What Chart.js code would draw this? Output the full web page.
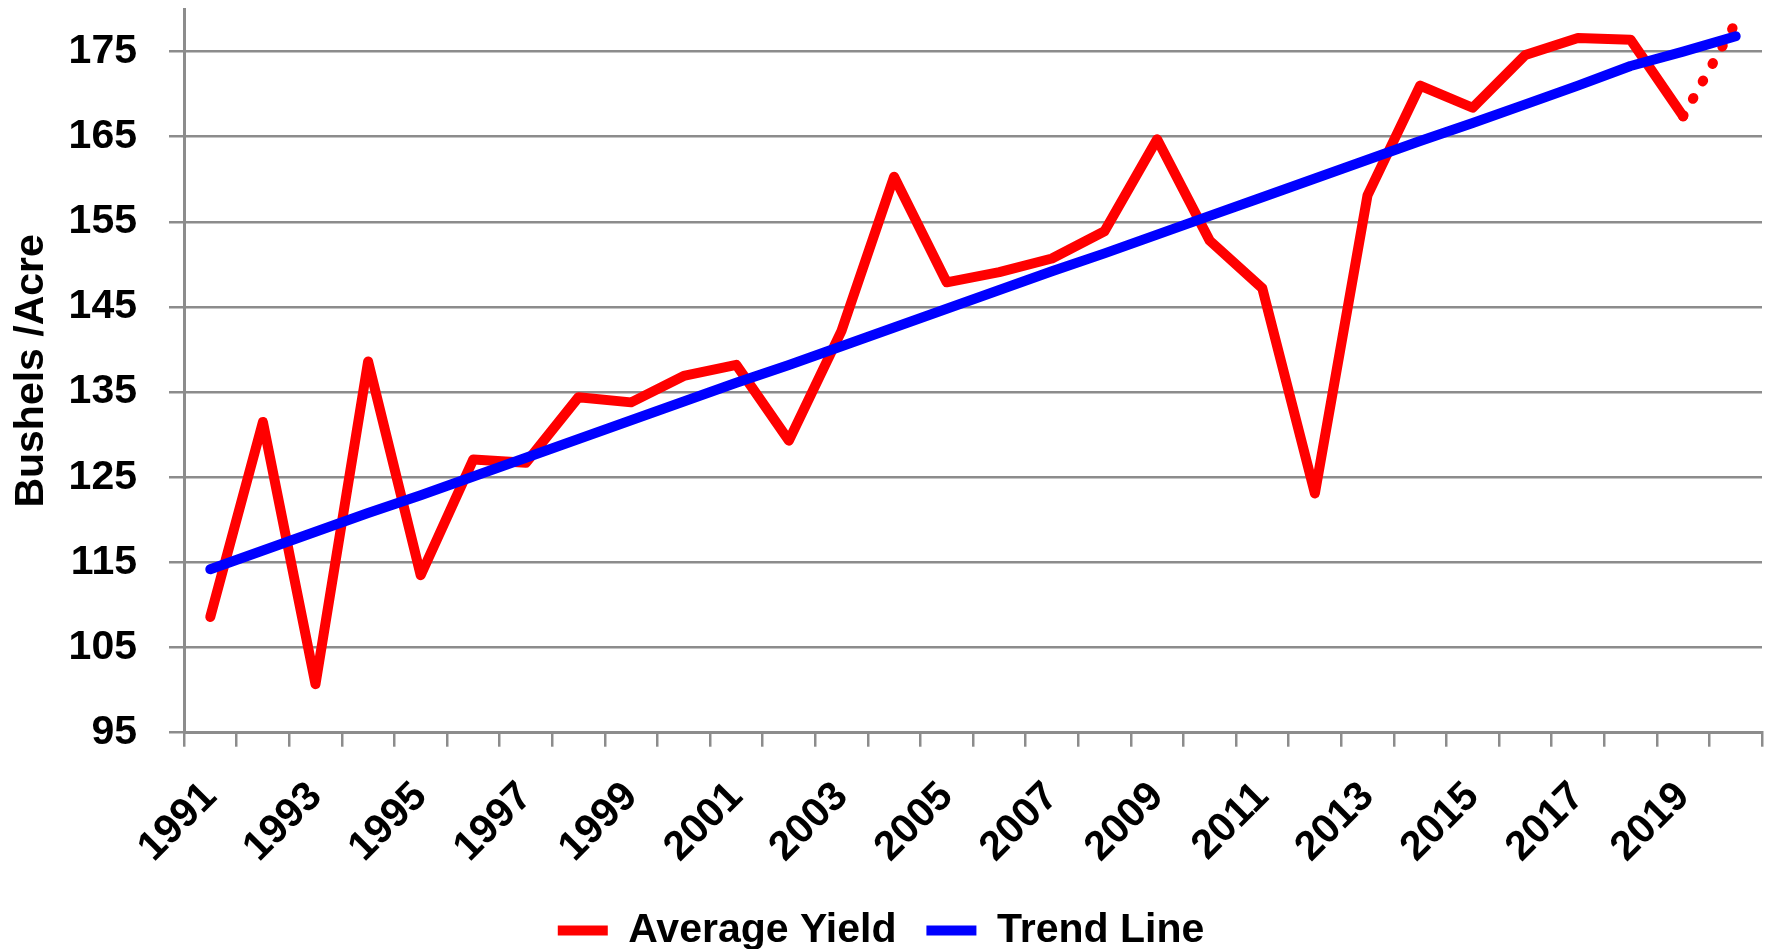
<!DOCTYPE html>
<html>
<head>
<meta charset="utf-8">
<script src="https://cdn.jsdelivr.net/npm/chart.js@4"></script>
<style>
  html, body { margin: 0; padding: 0; background: #fff; }
  #wrap { width: 1767px; height: 949px; }
</style>
</head>
<body>
<div id="wrap"><canvas id="yieldChart"></canvas></div>
<script>
const years = [
  "1991", "1992", "1993", "1994", "1995", "1996", "1997", "1998", "1999", "2000",
  "2001", "2002", "2003", "2004", "2005", "2006", "2007", "2008", "2009", "2010",
  "2011", "2012", "2013", "2014", "2015", "2016", "2017", "2018", "2019", "2020",
];

// bushels per acre, last value is the dotted projection
const avgYield = [
  108.6, 131.5, 100.7, 138.6, 113.5, 127.1, 126.7, 134.4, 133.8, 136.9,
  138.2, 129.3, 142.2, 160.3, 147.9, 149.1, 150.7, 153.9, 164.7, 152.8,
  147.2, 123.1, 158.1, 171.0, 168.4, 174.6, 176.6, 176.4, 167.4, 178.4,
];

const trendLine = [
  114.2, 116.4, 118.6, 120.8, 122.9, 125.1, 127.3, 129.5, 131.7, 133.9,
  136.1, 138.2, 140.4, 142.6, 144.8, 147.0, 149.2, 151.3, 153.5, 155.7,
  157.9, 160.1, 162.3, 164.5, 166.6, 168.8, 171.0, 173.3, 175.0, 176.8,
];

const yTicks = [95, 105, 115, 125, 135, 145, 155, 165, 175];

const FONT = "'Liberation Sans', Arial, sans-serif";
const GRID = "#8c8c8c";
const lastIdx = years.length - 2;

const ctx = document.getElementById("yieldChart").getContext("2d");

new Chart(ctx, {
  type: "line",
  data: {
    labels: years,
    datasets: [
      {
        label: "Average Yield",
        data: avgYield,
        borderColor: "#ff0000",
        backgroundColor: "#ff0000",
        borderWidth: 10,
        borderCapStyle: "round",
        borderJoinStyle: "round",
        pointRadius: 0,
        tension: 0,
        order: 2,
        segment: {
          borderDash: (c) => (c.p0DataIndex === lastIdx ? [1, 19] : undefined),
        },
      },
      {
        label: "Trend Line",
        data: trendLine,
        borderColor: "#0000ff",
        backgroundColor: "#0000ff",
        borderWidth: 10,
        borderCapStyle: "round",
        borderJoinStyle: "round",
        pointRadius: 0,
        tension: 0,
        order: 1,
      },
    ],
  },
  options: {
    responsive: true,
    maintainAspectRatio: false,
    animation: false,
    layout: { padding: { left: 0, right: 5, top: 9, bottom: -12 } },
    plugins: {
      tooltip: { enabled: false },
      legend: {
        position: "bottom",
        labels: {
          usePointStyle: true,
          pointStyle: "line",
          pointStyleWidth: 50,
          padding: 30,
          color: "#000",
          font: { family: FONT, size: 41, weight: "bold" },
          sort: (a, b) => a.datasetIndex - b.datasetIndex,
        },
      },
    },
    scales: {
      x: {
        type: "category",
        offset: true,
        afterFit: (s) => { s.height -= 18; s.paddingLeft = 0; s.paddingRight = 0; },
        grid: {
          offset: true,
          drawOnChartArea: false,
          drawTicks: true,
          tickLength: 14,
          color: GRID,
          lineWidth: 2.5,
        },
        border: { color: GRID, width: 3 },
        ticks: {
          autoSkip: false,
          minRotation: 45,
          maxRotation: 45,
          padding: 26,
          color: "#000",
          font: { family: FONT, size: 41, weight: "bold" },
          callback: (v, i) => (i % 2 === 0 ? years[i] : ""),
        },
      },
      y: {
        min: 95,
        max: 180,
        afterFit: (s) => { s.width = 184; s.paddingTop = 0; s.paddingBottom = 0; },
        afterBuildTicks: (s) => { s.ticks = yTicks.map((v) => ({ value: v })); },
        grid: {
          color: GRID,
          lineWidth: 2.5,
          drawTicks: true,
          tickLength: 15,
        },
        border: { color: GRID, width: 3 },
        ticks: {
          padding: 32,
          color: "#000",
          font: { family: FONT, size: 41, weight: "bold" },
        },
        title: {
          display: true,
          text: "Bushels /Acre",
          color: "#000",
          padding: { top: 7, bottom: 0 },
          font: { family: FONT, size: 41, weight: "bold" },
        },
      },
    },
  },
});
</script>
</body>
</html>
